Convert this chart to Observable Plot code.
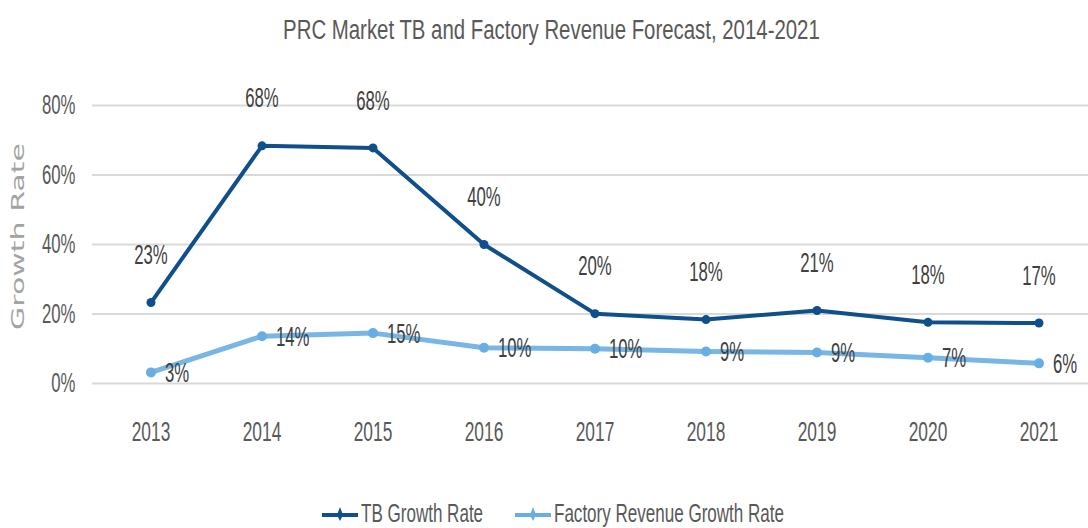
<!DOCTYPE html>
<html><head><meta charset="utf-8">
<script src="https://cdn.jsdelivr.net/npm/d3@7"></script>
<script src="https://cdn.jsdelivr.net/npm/@observablehq/plot@0.6"></script>
<style>
body{margin:0;background:#fff;}
#wrap{position:relative;width:1088px;height:528px;overflow:hidden;font-family:"Liberation Sans",Arial,sans-serif;color:#595959;}
#title{position:absolute;top:17px;left:0;width:1102px;text-align:center;font-size:27px;line-height:27px;color:#595959;white-space:nowrap;}
#title span{display:inline-block;transform:scaleX(0.755);transform-origin:center;}
#chart{position:absolute;top:0;left:0;}
.item{position:absolute;top:500px;height:26px;display:flex;align-items:center;font-size:26px;line-height:26px;color:#595959;white-space:nowrap;}
.item span{display:inline-block;transform:scaleX(0.655);transform-origin:left center;}
.item svg{margin-right:3px;}
</style>
</head><body>
<div id="wrap">
  <div id="chart"></div>
  <div id="title"><span>PRC Market TB and Factory Revenue Forecast, 2014-2021</span></div>
</div>
<script>
const years = ["2013","2014","2015","2016","2017","2018","2019","2020","2021"];
const tbRate = [23.3, 68.4, 67.8, 40.0, 20.1, 18.4, 21.0, 17.6, 17.4];
const factoryRate = [3.2, 13.6, 14.5, 10.3, 10.0, 9.2, 8.9, 7.4, 5.8];
const yTicks = [0, 20, 40, 60, 80];
const seriesNames = ["TB Growth Rate", "Factory Revenue Growth Rate"];
const seriesColors = ["#0f4f8c", "#68aee2"];
const yTitle = "Growth Rate";

const data = years.map((y, i) => ({year: y, tb: tbRate[i], factory: factoryRate[i]}));

const chart = Plot.plot({
  width: 1088,
  height: 460,
  marginLeft: 92,
  marginRight: 0,
  marginTop: 105,
  marginBottom: 77,
  style: {fontFamily: '"Liberation Sans",Arial,sans-serif', color: "#595959", background: "transparent"},
  x: {type: "band", domain: years, range: [92, 1096], padding: 0},
  y: {domain: [0, 80]},
  marks: [
    Plot.ruleY(yTicks, {stroke: "#d9d9d9", strokeWidth: 2}),
    Plot.axisY({ticks: yTicks, tickSize: 0, tickPadding: 17, fontSize: 27, tickFormat: d => d + "%", label: null}),
    Plot.axisX({tickSize: 0, tickPadding: 38, fontSize: 28, label: null}),
    Plot.text([yTitle], {frameAnchor: "left", textAnchor: "middle", dx: -74, dy: -8, rotate: -90, fontFamily: "DejaVu Sans", fontSize: 30, fill: "#a3a3a3"}),
    Plot.line(data, {x: "year", y: "factory", stroke: seriesColors[1], strokeWidth: 5, strokeOpacity: 0.9}),
    Plot.dot(data, {x: "year", y: "factory", r: 5, fill: seriesColors[1]}),
    Plot.line(data, {x: "year", y: "tb", stroke: seriesColors[0], strokeWidth: 4}),
    Plot.dot(data, {x: "year", y: "tb", r: 4.5, fill: seriesColors[0]}),
    Plot.text(data, {x: "year", y: "tb", text: d => Math.round(d.tb) + "%", dy: -47, fontSize: 27, fill: "#404040"}),
    Plot.text(data, {x: "year", y: "factory", text: d => Math.round(d.factory) + "%", dx: 14, dy: 1, textAnchor: "start", fontSize: 27, fill: "#404040"})
  ]
});
// condense the glyphs like the reference (horizontally squeezed text)
d3.select(chart).selectAll("text").each(function() {
  const t = this.getAttribute("transform");
  if (!t) return;
  this.setAttribute("transform", t + (t.includes("rotate") ? " scale(1,0.58)" : " scale(0.62,1)"));
});
document.getElementById("chart").appendChild(chart);

const wrap = document.getElementById("wrap");
const legendLeft = [322, 515];
seriesNames.forEach((name, i) => {
  const item = document.createElement("div");
  item.className = "item";
  item.style.left = legendLeft[i] + "px";
  item.innerHTML = `<svg width="36" height="20"><line x1="0" x2="36" y1="12" y2="12" stroke="${seriesColors[i]}" stroke-width="4"/><path d="M18 4 L21 12 L18 18 L15 12 Z" fill="${seriesColors[i]}"/></svg><span>${name}</span>`;
  wrap.appendChild(item);
});
</script>
</body></html>
